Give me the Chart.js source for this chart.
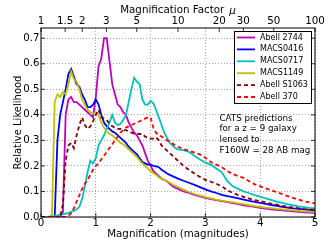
<!DOCTYPE html>
<html>
<head>
<meta charset="utf-8">
<script src="https://cdn.jsdelivr.net/npm/chart.js@4/dist/chart.umd.min.js"></script>
<style>
  html, body { margin: 0; padding: 0; background: #fff; }
  canvas { display: block; }
</style>
</head>
<body>
<canvas id="chart" width="332" height="249"></canvas>
<script>
// magnification in magnitudes (bottom axis)
const mag = [
  0, 0.05, 0.1, 0.15, 0.2, 0.25, 0.3, 0.35, 0.4, 0.45,
  0.5, 0.55, 0.6, 0.65, 0.7, 0.75, 0.8, 0.85, 0.9, 0.95,
  1, 1.05, 1.1, 1.15, 1.2, 1.25, 1.3, 1.35, 1.4, 1.45,
  1.5, 1.55, 1.6, 1.65, 1.7, 1.75, 1.8, 1.85, 1.9, 1.95,
  2, 2.05, 2.1, 2.15, 2.2, 2.25, 2.3, 2.35, 2.4, 2.45,
  2.5, 2.6, 2.7, 2.8, 2.9,
  3, 3.1, 3.2, 3.3, 3.4, 3.5, 3.6, 3.7, 3.8, 3.9,
  4, 4.1, 4.2, 4.3, 4.4, 4.5, 4.6, 4.7, 4.8, 4.9,
  5
];

const abell2744 = [
  0, 0, 0, 0, 0, 0, 0, 0, 0.02, 0.40,
  0.46, 0.47, 0.45, 0.45, 0.44, 0.43, 0.42, 0.41, 0.40, 0.39,
  0.47, 0.59, 0.62, 0.70, 0.70, 0.61, 0.52, 0.48, 0.44, 0.43,
  0.41, 0.40, 0.37, 0.35, 0.33, 0.32, 0.30, 0.28, 0.25, 0.22,
  0.20, 0.18, 0.17, 0.16, 0.15, 0.145, 0.14, 0.13, 0.12, 0.115,
  0.11, 0.10, 0.094, 0.087, 0.081,
  0.075, 0.07, 0.066, 0.062, 0.058, 0.054, 0.05, 0.046, 0.043, 0.04,
  0.036, 0.033, 0.03, 0.028, 0.026, 0.024, 0.022, 0.02, 0.018, 0.017,
  0.016
];

const macs0416 = [
  0, 0, 0, 0, 0, 0, 0.30, 0.40, 0.45, 0.50,
  0.56, 0.58, 0.55, 0.52, 0.51, 0.48, 0.46, 0.43, 0.43, 0.44,
  0.46, 0.44, 0.40, 0.37, 0.355, 0.345, 0.335, 0.33, 0.32, 0.31,
  0.30, 0.29, 0.275, 0.265, 0.255, 0.245, 0.23, 0.215, 0.21, 0.205,
  0.205, 0.20, 0.198, 0.195, 0.185, 0.178, 0.17, 0.165, 0.16, 0.155,
  0.15, 0.142, 0.134, 0.126, 0.117,
  0.108, 0.1, 0.094, 0.087, 0.082, 0.078, 0.073, 0.068, 0.063, 0.059,
  0.055, 0.051, 0.047, 0.044, 0.04, 0.037, 0.034, 0.032, 0.03, 0.028,
  0.026
];

const macs0717 = [
  0, 0, 0, 0, 0.003, 0.004, 0.006, 0.008, 0.01, 0.013,
  0.016, 0.02, 0.024, 0.03, 0.04, 0.07, 0.12, 0.175, 0.22, 0.21,
  0.23, 0.28, 0.30, 0.32, 0.345, 0.37, 0.40, 0.37, 0.36, 0.365,
  0.38, 0.40, 0.45, 0.50, 0.545, 0.53, 0.52, 0.46, 0.44, 0.44,
  0.455, 0.445, 0.42, 0.39, 0.36, 0.33, 0.31, 0.29, 0.28, 0.27,
  0.265, 0.262, 0.255, 0.24, 0.225,
  0.213, 0.205, 0.19, 0.175, 0.14, 0.12, 0.11, 0.1, 0.093, 0.086,
  0.08, 0.073, 0.067, 0.06, 0.055, 0.05, 0.046, 0.042, 0.039, 0.036,
  0.034
];

const macs1149 = [
  0, 0, 0, 0, 0.01, 0.45, 0.48, 0.47, 0.49, 0.48,
  0.52, 0.57, 0.54, 0.53, 0.50, 0.46, 0.44, 0.42, 0.41, 0.405,
  0.41, 0.40, 0.37, 0.35, 0.335, 0.325, 0.32, 0.31, 0.30, 0.29,
  0.285, 0.275, 0.265, 0.255, 0.245, 0.235, 0.222, 0.21, 0.20, 0.19,
  0.18, 0.172, 0.165, 0.155, 0.15, 0.145, 0.14, 0.134, 0.128, 0.122,
  0.117, 0.107, 0.098, 0.09, 0.084,
  0.078, 0.073, 0.068, 0.064, 0.06, 0.057, 0.053, 0.05, 0.046, 0.043,
  0.04, 0.037, 0.035, 0.032, 0.03, 0.028, 0.026, 0.024, 0.022, 0.021,
  0.02
];

const abellS1063 = [
  0, 0, 0, 0, 0, 0, 0, 0, 0.05, 0.22,
  0.28, 0.29, 0.27, 0.32, 0.36, 0.39, 0.36, 0.345, 0.355, 0.375,
  0.40, 0.42, 0.39, 0.385, 0.38, 0.365, 0.355, 0.35, 0.345, 0.345,
  0.34, 0.34, 0.335, 0.33, 0.327, 0.327, 0.325, 0.325, 0.315, 0.31,
  0.307, 0.307, 0.312, 0.30, 0.28, 0.27, 0.26, 0.25, 0.24, 0.23,
  0.22, 0.2, 0.185, 0.17, 0.157,
  0.145, 0.138, 0.13, 0.12, 0.105, 0.094, 0.086, 0.079, 0.072, 0.066,
  0.062, 0.057, 0.052, 0.048, 0.044, 0.04, 0.037, 0.034, 0.031, 0.029,
  0.027
];

const abell370 = [
  0, 0, 0, 0, 0, 0, 0, 0, 0, 0,
  0.005, 0.015, 0.035, 0.06, 0.085, 0.11, 0.13, 0.145, 0.165, 0.185,
  0.20, 0.21, 0.225, 0.24, 0.255, 0.27, 0.285, 0.30, 0.315, 0.33,
  0.34, 0.35, 0.355, 0.36, 0.365, 0.37, 0.375, 0.38, 0.385, 0.39,
  0.39, 0.35, 0.33, 0.32, 0.315, 0.308, 0.30, 0.295, 0.288, 0.28,
  0.275, 0.266, 0.26, 0.252, 0.245,
  0.232, 0.215, 0.205, 0.195, 0.18, 0.168, 0.16, 0.153, 0.14, 0.128,
  0.12, 0.112, 0.105, 0.097, 0.09, 0.082, 0.075, 0.068, 0.062, 0.057,
  0.053
];

// top axis: magnification factor mu, placed at 2.5*log10(mu)
const muTicks = [1, 1.5, 2, 3, 5, 10, 20, 30, 50, 100];
const muLabels = ['1', '1.5', '2', '3', '5', '10', '20', '30', '50', '100'];

const seriesNames = ['Abell 2744', 'MACS0416', 'MACS0717', 'MACS1149', 'Abell S1063', 'Abell 370'];
const seriesData = [abell2744, macs0416, macs0717, macs1149, abellS1063, abell370];
const seriesColors = ['#bf00bf', '#0000ff', '#00bfbf', '#bfbf00', '#800000', '#ff0000'];
const seriesDashed = [false, false, false, false, true, true];

const noteLines = ['CATS predictions', 'for a z = 9 galaxy', 'lensed to', 'F160W = 28 AB mag'];

const FONT = 'DejaVu Sans';
Chart.defaults.font.family = FONT;
Chart.defaults.color = '#000';

const datasets = seriesNames.map((name, i) => ({
  label: name,
  data: mag.map((m, j) => ({ x: m, y: seriesData[i][j] })),
  borderColor: seriesColors[i],
  borderWidth: 1.8,
  borderDash: seriesDashed[i] ? [4, 3] : [],
  pointRadius: 0,
  tension: 0,
  fill: false,
  order: seriesNames.length - i
}));

// frame, inward ticks, top title, legend box and the text note
const decorations = {
  id: 'decorations',
  afterDraw(chart) {
    const ctx = chart.ctx;
    const a = chart.chartArea;
    const xs = chart.scales.x, ys = chart.scales.y, x2 = chart.scales.x2;
    ctx.save();

    // inward tick marks
    ctx.strokeStyle = '#000';
    ctx.lineWidth = 0.8;
    ctx.beginPath();
    xs.ticks.forEach(t => {
      const px = xs.getPixelForValue(t.value);
      ctx.moveTo(px, a.bottom); ctx.lineTo(px, a.bottom - 4);
    });
    ys.ticks.forEach(t => {
      const py = ys.getPixelForValue(t.value);
      ctx.moveTo(a.left, py); ctx.lineTo(a.left + 4, py);
      ctx.moveTo(a.right, py); ctx.lineTo(a.right - 4, py);
    });
    muTicks.forEach(mu => {
      const px = x2.getPixelForValue(2.5 * Math.log10(mu));
      ctx.moveTo(px, a.top); ctx.lineTo(px, a.top + 4);
    });
    ctx.stroke();

    // frame
    ctx.lineWidth = 1;
    ctx.strokeRect(a.left, a.top, a.right - a.left, a.bottom - a.top);

    // top axis title with italic mu
    ctx.fillStyle = '#000';
    ctx.textBaseline = 'middle';
    ctx.textAlign = 'left';
    ctx.font = '10.3px "' + FONT + '"';
    const t1 = 'Magnification Factor';
    const w1 = ctx.measureText(t1).width;
    ctx.font = 'italic 10.3px "' + FONT + '"';
    const wmu = ctx.measureText('\u03bc').width;
    const total = w1 + 5 + wmu;
    const cx = (a.left + a.right) / 2;
    ctx.font = '10.3px "' + FONT + '"';
    ctx.fillText(t1, cx - total / 2, 10);
    ctx.font = 'italic 10.3px "' + FONT + '"';
    ctx.fillText('\u03bc', cx - total / 2 + w1 + 5, 11.5);

    // legend
    ctx.fillStyle = '#fff';
    ctx.fillRect(234.5, 31.5, 77, 72);
    ctx.strokeStyle = '#000';
    ctx.lineWidth = 1;
    ctx.strokeRect(234.5, 31.5, 77, 72);
    ctx.font = '8px "' + FONT + '"';
    seriesNames.forEach((name, i) => {
      const y = 37.5 + i * 11.9;
      ctx.strokeStyle = seriesColors[i];
      ctx.lineWidth = 1.8;
      ctx.setLineDash(seriesDashed[i] ? [4, 3] : []);
      ctx.beginPath();
      ctx.moveTo(237, y); ctx.lineTo(255, y);
      ctx.stroke();
      ctx.setLineDash([]);
      ctx.fillStyle = '#000';
      ctx.fillText(name, 260, y);
    });

    // note
    ctx.font = '8.7px "' + FONT + '"';
    noteLines.forEach((line, i) => {
      ctx.fillText(line, 219.5, 118.5 + i * 10.7);
    });

    ctx.restore();
  }
};

new Chart(document.getElementById('chart'), {
  type: 'line',
  data: { datasets: datasets },
  options: {
    responsive: false,
    animation: false,
    devicePixelRatio: 1,
    layout: { padding: { left: 0, right: 17, top: 0, bottom: 0 } },
    plugins: { legend: { display: false }, tooltip: { enabled: false } },
    scales: {
      x: {
        type: 'linear',
        position: 'bottom',
        min: 0, max: 5,
        afterFit: s => { s.height = 32; },
        ticks: { stepSize: 1, padding: 0, maxRotation: 0, font: { size: 10.3 },
                 callback: v => String(v) },
        grid: { color: 'rgba(0,0,0,0.45)', lineWidth: 0.8, drawTicks: false },
        border: { display: false, dash: [1, 2] },
        title: { display: true, text: 'Magnification (magnitudes)', font: { size: 10.3 },
                 padding: { top: 0, bottom: 8.8 } }
      },
      x2: {
        type: 'linear',
        position: 'top',
        min: 0, max: 5,
        afterFit: s => { s.height = 28; },
        afterBuildTicks: s => { s.ticks = muTicks.map(mu => ({ value: 2.5 * Math.log10(mu) })); },
        ticks: { autoSkip: false, padding: 0, maxRotation: 0, font: { size: 10.3 },
                 callback: (v, i) => muLabels[i] },
        grid: { display: false, drawTicks: false },
        border: { display: false }
      },
      y: {
        type: 'linear',
        min: 0, max: 0.74,
        afterFit: s => { s.width = 41; },
        ticks: { stepSize: 0.1, includeBounds: false, padding: 1.5, font: { size: 10.2 },
                 callback: v => v.toFixed(1) },
        grid: { color: 'rgba(0,0,0,0.45)', lineWidth: 0.8, drawTicks: false },
        border: { display: false, dash: [1, 2] },
        title: { display: true, text: 'Relative Likelihood', font: { size: 10 },
                 padding: { top: 12, bottom: 0 } }
      }
    }
  },
  plugins: [decorations]
});
</script>
</body>
</html>
